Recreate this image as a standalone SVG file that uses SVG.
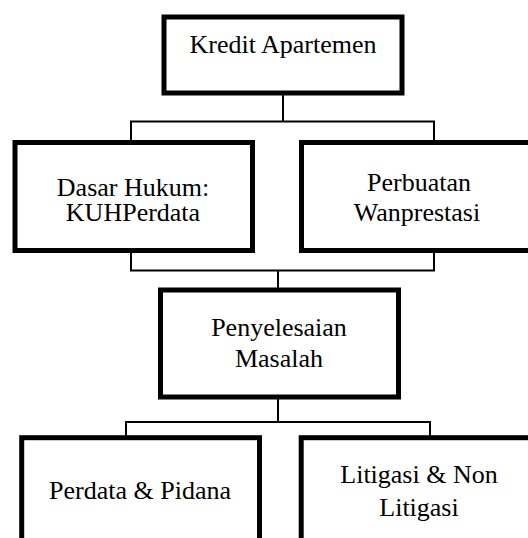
<svg xmlns="http://www.w3.org/2000/svg" width="528" height="538" viewBox="0 0 528 538">
<style>
.box{fill:#fff;stroke:#000;stroke-width:5}
.t{font-family:'Liberation Serif','Times New Roman',Tinos,'DejaVu Serif',serif;font-size:26px;fill:#000;text-anchor:middle}
.c{fill:none;stroke:#000;stroke-width:2}
</style>
<rect width="528" height="538" fill="#fff"/>
<g id="connectors">
<polyline class="c" points="283,93 283,121.5"/>
<polyline class="c" points="131,142 131,121.5 434,121.5 434,142"/>
<polyline class="c" points="131,250 131,270.5 434,270.5 434,250"/>
<polyline class="c" points="278,270.5 278,290"/>
<polyline class="c" points="278,397 278,422"/>
<polyline class="c" points="126,438 126,422 430,422 430,438"/>
</g>
<g id="kredit">
<rect class="box" x="164" y="17" width="238" height="76"/>
<text class="t" x="283" y="53">Kredit Apartemen</text>
</g>
<g id="dasar">
<rect class="box" x="15" y="142.5" width="237.5" height="108"/>
<text class="t" x="133" y="196">Dasar Hukum:</text>
<text class="t" x="133" y="221">KUHPerdata</text>
</g>
<g id="perbuatan">
<rect class="box" x="301.5" y="142.5" width="237.5" height="108"/>
<text class="t" x="419" y="191">Perbuatan</text>
<text class="t" x="417" y="220.5">Wanprestasi</text>
</g>
<g id="penyelesaian">
<rect class="box" x="160.5" y="290" width="238" height="107"/>
<text class="t" x="279" y="336">Penyelesaian</text>
<text class="t" x="279" y="367">Masalah</text>
</g>
<g id="perdata">
<rect class="box" x="21.7" y="437.7" width="237.8" height="130"/>
<text class="t" x="140" y="499">Perdata &amp; Pidana</text>
</g>
<g id="litigasi">
<rect class="box" x="301.2" y="437.7" width="237.8" height="130"/>
<text class="t" x="419" y="483">Litigasi &amp; Non</text>
<text class="t" x="419" y="515.5">Litigasi</text>
</g>
</svg>
